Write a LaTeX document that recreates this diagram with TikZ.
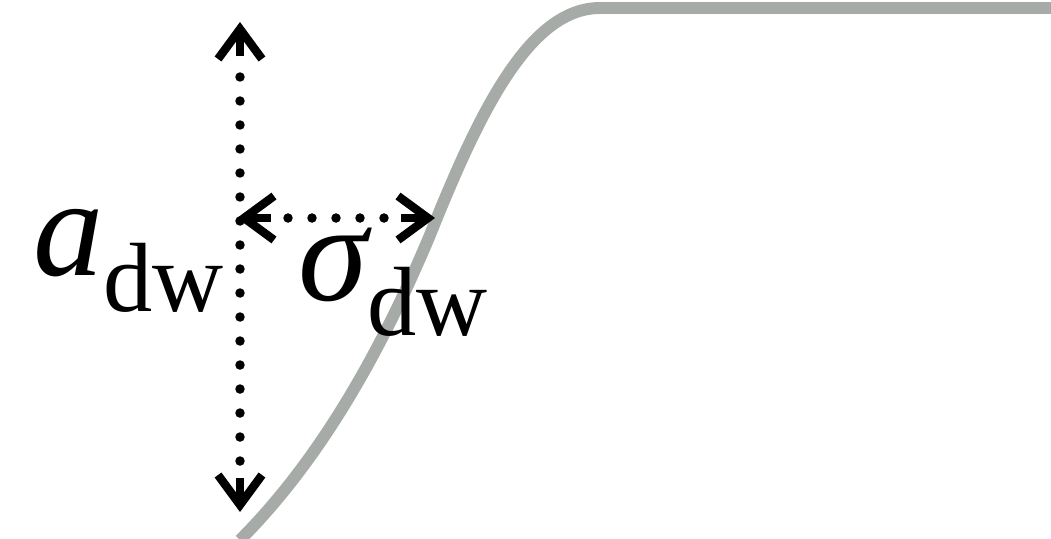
\documentclass[tikz,border=0pt]{standalone}
\usepackage{fontspec}
\setmainfont{Liberation Serif}
\usetikzlibrary{arrows.meta,positioning}
\definecolor{wallgray}{RGB}{166,171,168}

\begin{document}
\begin{tikzpicture}[x=0.02cm, y=-0.02cm,
    wall/.style={draw=wallgray, line width=6.8pt, line cap=butt},
    dots/.style={line width=5.4pt, line cap=round, dash pattern=on 0pt off 13.66pt},
    tip/.style={line width=4.8pt, -{Straight Barb[length=17pt,width=25pt,line width=4.8pt]}},
    lbl/.style={inner sep=0pt, anchor=base west, font=\fontsize{80}{90}\selectfont}]

\useasboundingbox (0,0) rectangle (1051,538);

% === Domain wall profile ===
\draw[wall] (240,540) .. controls (330,450) and (390,330) .. (430,235)
    .. controls (480,110) and (530,8) .. (600,8) -- (1060,8);

% === Vertical arrow (a_dw) ===
\coordinate (vtop)  at (240,22);
\coordinate (vtopi) at (240,56);
\coordinate (vbot)  at (240,512);
\coordinate (vboti) at (240,478);
\draw[dots] (240,77) -- (240,461.5);
\draw[tip] (vtopi) -- (vtop);
\draw[tip] (vboti) -- (vbot);

% === Horizontal arrow (sigma_dw) ===
\coordinate (hl)  at (237,218);
\coordinate (hli) at (271,218);
\coordinate (hr)  at (435,218);
\coordinate (hri) at (401,218);
\draw[dots] (288,218) -- (384.5,218);
\draw[tip] (hli) -- (hl);
\draw[tip] (hri) -- (hr);

% === Labels ===
\node[lbl] (adw) at (33,275) {\itshape a\raisebox{-21pt}{\upshape\fontsize{56}{60}\selectfont dw}};
\node[lbl] (sdw) at (298,300) {\itshape σ\raisebox{-20pt}{\upshape\fontsize{56}{60}\selectfont dw}};

\end{tikzpicture}
\end{document}
